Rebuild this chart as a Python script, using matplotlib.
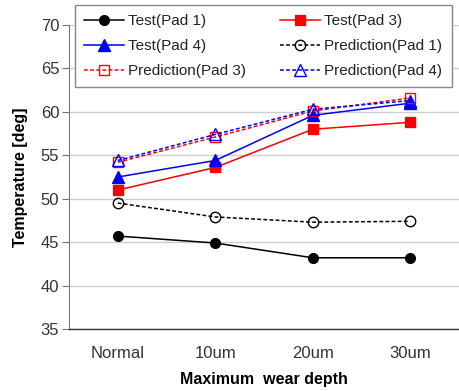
import matplotlib
matplotlib.use("Agg")
import matplotlib.pyplot as plt
import numpy as np

categories = ["Normal", "10um", "20um", "30um"]
test_pad1 = [45.7, 44.9, 43.2, 43.2]
test_pad3 = [51.0, 53.6, 58.0, 58.8]
test_pad4 = [52.5, 54.4, 59.6, 61.0]
pred_pad1 = [49.5, 47.9, 47.3, 47.4]
pred_pad3 = [54.2, 57.1, 60.1, 61.6]
pred_pad4 = [54.4, 57.4, 60.3, 61.3]
yticks = [35, 40, 45, 50, 55, 60, 65, 70]

plt.rcParams['font.family'] = ['Liberation Sans', 'DejaVu Sans']

fig = plt.figure(figsize=(4.59, 3.91), dpi=100)
ax = fig.add_axes([69/459, 1-329/391, 1-69/459, (329-25)/391])

x = np.arange(len(categories)) + 0.5
lw = 1.1
ax.plot(x, test_pad1, color='black', lw=lw, marker='o', ms=7, label='Test(Pad 1)')
ax.plot(x, test_pad3, color='red', lw=lw, marker='s', ms=7, label='Test(Pad 3)')
ax.plot(x, test_pad4, color='blue', lw=lw, marker='^', ms=8, label='Test(Pad 4)')
ax.plot(x, pred_pad1, color='black', lw=lw, ls=(0, (2.5, 1.5)), marker='o', ms=7.5,
        mfc='none', mew=1.0, label='Prediction(Pad 1)')
ax.plot(x, pred_pad3, color='red', lw=lw, ls=(0, (2.5, 1.5)), marker='s', ms=7.5,
        mfc='none', mew=1.0, label='Prediction(Pad 3)')
ax.plot(x, pred_pad4, color='blue', lw=lw, ls=(0, (2.5, 1.5)), marker='^', ms=8.5,
        mfc='none', mew=1.0, label='Prediction(Pad 4)')

ax.set_xlim(0, len(categories))
ax.set_ylim(35, 70)
ax.set_yticks(yticks)
ax.set_xticks(x)
ax.set_xticklabels(categories)
ax.grid(axis='y', color='#cfcfcf', lw=1.0)
ax.set_axisbelow(True)
for s in ['top', 'right']:
    ax.spines[s].set_visible(False)
ax.spines['left'].set_color('#777777')
ax.spines['bottom'].set_color('#333333')
ax.spines['bottom'].set_linewidth(1.0)
ax.tick_params(axis='y', direction='out', length=5, color='#777777', labelsize=12,
               labelcolor='#333333', pad=2)
ax.tick_params(axis='x', length=0, labelsize=12, labelcolor='#333333', pad=12)

ax.set_ylabel('Temperature [deg]', fontsize=11.5, fontweight='bold', labelpad=9)
ax.set_xlabel('Maximum  wear depth', fontsize=11.5, fontweight='bold', labelpad=8)

order = ['Test(Pad 1)', 'Test(Pad 3)', 'Test(Pad 4)', 'Prediction(Pad 1)',
         'Prediction(Pad 3)', 'Prediction(Pad 4)']
h, l = ax.get_legend_handles_labels()
d = dict(zip(l, h))
hh = [d[k] for k in order]
col1 = [0, 2, 4]
col2 = [1, 3, 5]
hh2 = [hh[i] for i in col1] + [hh[i] for i in col2]
ll2 = [order[i] for i in col1] + [order[i] for i in col2]
leg = ax.legend(hh2, ll2, ncol=2, loc='upper left',
                bbox_to_anchor=(75/459, 1-5/391), bbox_transform=fig.transFigure,
                borderaxespad=0, fontsize=11, frameon=True, fancybox=False,
                edgecolor='#888888', framealpha=1, handlelength=2.6,
                handletextpad=0.3, columnspacing=2.2, labelspacing=0.72,
                borderpad=0.6)
leg.get_frame().set_linewidth(1.0)
for t in leg.get_texts():
    t.set_color('#222222')

fig.savefig('out.png', dpi=100)
